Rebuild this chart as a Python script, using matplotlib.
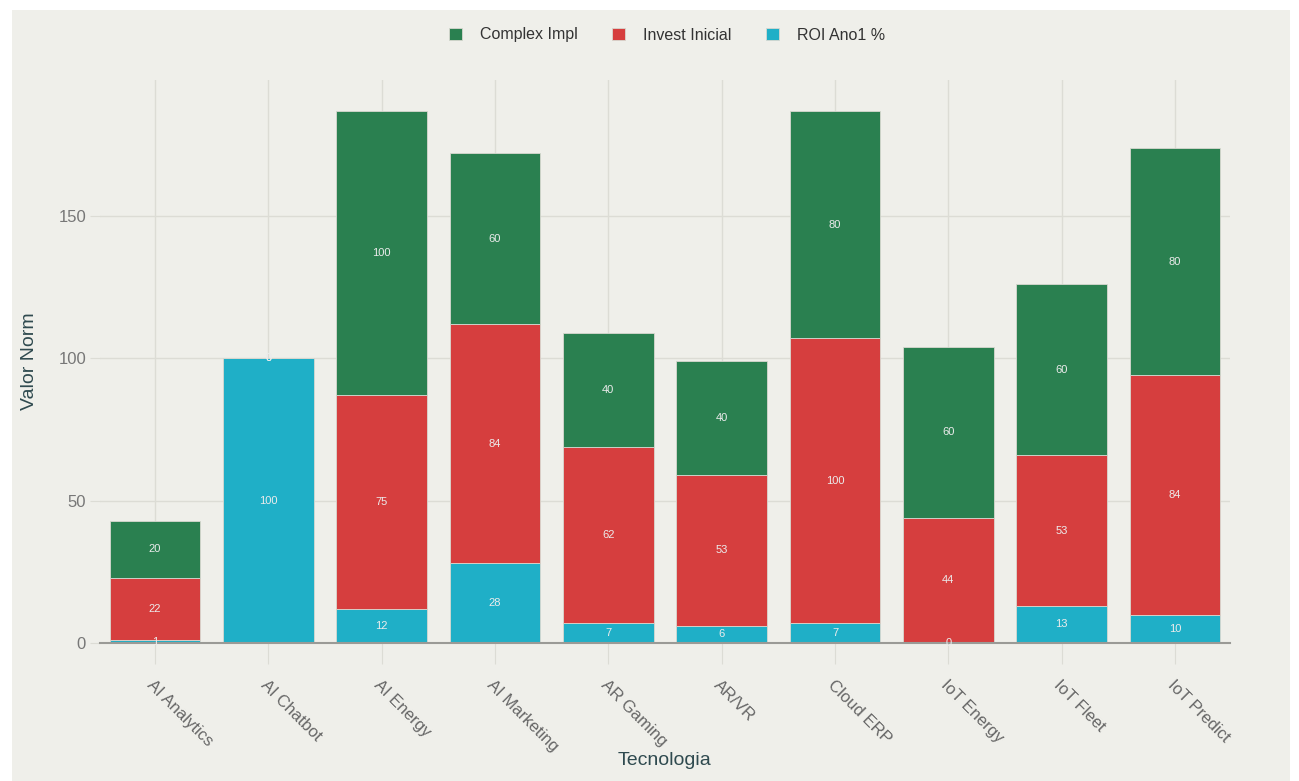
import numpy as np
import matplotlib.pyplot as plt
from matplotlib.patches import Rectangle

plt.rcParams['font.family'] = ['Liberation Sans', 'DejaVu Sans']

tecnologias = ["AI Analytics", "AI Chatbot", "AI Energy", "AI Marketing", "AR Gaming",
               "AR/VR", "Cloud ERP", "IoT Energy", "IoT Fleet", "IoT Predict"]
roi_ano1 = [1, 100, 12, 28, 7, 6, 7, 0, 13, 10]
invest_inicial = [22, 0, 75, 84, 62, 53, 100, 44, 53, 84]
complex_impl = [20, 0, 100, 60, 40, 40, 80, 60, 60, 80]

c_green = "#2a8050"
c_red = "#d63e3e"
c_cyan = "#1fafc7"
bg = "#efefea"

fig = plt.figure(figsize=(12.99, 7.81), dpi=100, facecolor="white")
fig.patches.append(Rectangle((12 / 1299, 0), (1290 - 12) / 1299, (781 - 10) / 781,
                             transform=fig.transFigure, facecolor=bg, edgecolor="none", zorder=-10))
ax = fig.add_axes([100 / 1299, (781 - 643) / 781, 1130 / 1299, (643 - 80) / 781])
ax.set_facecolor(bg)

x = np.arange(len(tecnologias))
roi = np.array(roi_ano1)
inv = np.array(invest_inicial)
cpx = np.array(complex_impl)

b1 = ax.bar(x, roi, 0.8, color=c_cyan, edgecolor="#d8d8d0", linewidth=0.6, label="ROI Ano1 %", zorder=2)
b2 = ax.bar(x, inv, 0.8, bottom=roi, color=c_red, edgecolor="#d8d8d0", linewidth=0.6, label="Invest Inicial", zorder=2)
b3 = ax.bar(x, cpx, 0.8, bottom=roi + inv, color=c_green, edgecolor="#d8d8d0", linewidth=0.6, label="Complex Impl", zorder=2)

# valor no centro de cada segmento
for bars, vals, bot in [(b1, roi, 0 * roi), (b2, inv, roi), (b3, cpx, roi + inv)]:
    for xi, v, b in zip(x, vals, bot):
        ax.text(xi, b + v / 2, str(v), ha="center", va="center", fontsize=8,
                color="#ececec", zorder=3)

ax.set_xlim(-0.485, 9.485)
ax.set_ylim(0, 197.8)
ax.set_yticks([0, 50, 100, 150])
ax.set_xticks(x)
ax.set_xticklabels(tecnologias, rotation=-45, ha="left", va="top", rotation_mode="anchor")
ax.grid(True, color="#dcdcd5", linewidth=1, zorder=0)
ax.set_axisbelow(True)
for s in ["top", "right", "left"]:
    ax.spines[s].set_visible(False)
ax.spines["bottom"].set_color("#9a9a96")
ax.spines["bottom"].set_linewidth(1.5)
ax.tick_params(axis="y", length=7, color="#dcdcd5", labelsize=12, labelcolor="#777777", pad=3)
ax.tick_params(axis="x", length=15, color="#dcdcd5", labelsize=12, labelcolor="#666666", pad=10)

ax.set_xlabel("Tecnologia", fontsize=14, color="#2f4a4f", labelpad=-2)
ax.set_ylabel("Valor Norm", fontsize=14, color="#2f4a4f", labelpad=15)

handles = [b3, b2, b1]
ax.legend(handles, [h.get_label() for h in handles], loc="center", bbox_to_anchor=(667 / 1299, 1 - 35 / 781),
          bbox_transform=fig.transFigure, ncol=3, frameon=False, fontsize=11.5, handlelength=0.8,
          handleheight=0.8, columnspacing=2.2, handletextpad=1.1, labelcolor="#333333")

fig.savefig("out.png", dpi=100, facecolor="white")
